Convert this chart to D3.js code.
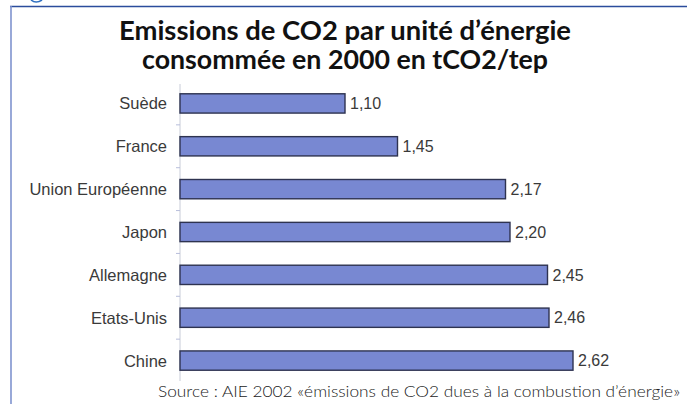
<!DOCTYPE html>
<html>
<head>
<meta charset="utf-8">
<script src="https://cdn.jsdelivr.net/npm/d3@7"></script>
<style>
  html, body { margin: 0; padding: 0; background: #fff; }
  svg { display: block; }
</style>
</head>
<body>
<svg id="chart" width="687" height="404"></svg>
<script>
// Countries and their CO2 intensity of energy use (tCO2 per tep), year 2000
const countries = ["Suède", "France", "Union Européenne", "Japon", "Allemagne", "Etats-Unis", "Chine"];
const values = [1.10, 1.45, 2.17, 2.20, 2.45, 2.46, 2.62];
const titleLines = ["Emissions de CO2 par unité d’énergie", "consommée en 2000 en tCO2/tep"];
const sourceText = "Source : AIE 2002 «émissions de CO2 dues à la combustion d’énergie»";

const svg = d3.select("#chart");
const W = 687, H = 404;

// Frame of the figure box (with the tail of the heading above it)
svg.append("path")
  .attr("d", "M31,0 Q36,4 42,0")
  .attr("fill", "none")
  .attr("stroke", "#2f6fc0").attr("stroke-width", 1.6);
svg.append("line")
  .attr("x1", 10).attr("x2", W).attr("y1", 6.5).attr("y2", 6.5)
  .attr("stroke", "#2b4c9c").attr("stroke-width", 1.6);
svg.append("line")
  .attr("x1", 11).attr("x2", 11).attr("y1", 6).attr("y2", H)
  .attr("stroke", "#7f93cf").attr("stroke-width", 1.6);

// Title
const titleWidths = [452, 406];
const title = svg.append("text")
  .attr("text-anchor", "middle")
  .attr("font-family", "Lato, sans-serif")
  .attr("font-weight", "bold")
  .attr("font-size", 26)
  .attr("fill", "#111");
title.selectAll("tspan").data(titleLines).join("tspan")
  .attr("x", 345)
  .attr("y", (d, i) => 40 + i * 29)
  .attr("textLength", (d, i) => titleWidths[i])
  .attr("lengthAdjust", "spacingAndGlyphs")
  .text(d => d);

// Scales
const x = d3.scaleLinear().domain([0, 1]).range([180, 330]);
const y = d3.scaleBand().domain(countries).range([82, 382]).paddingInner(0.55).paddingOuter(0.275);

// Category axis: thin line with small ticks between the bars
svg.append("line")
  .attr("x1", x(0)).attr("x2", x(0)).attr("y1", 84).attr("y2", 381)
  .attr("stroke", "#c8ccd8").attr("stroke-width", 1);
const step = y.step();
svg.selectAll(".tick").data(countries.slice(1)).join("line")
  .attr("class", "tick")
  .attr("x1", x(0) - 4).attr("x2", x(0))
  .attr("y1", d => y(d) - (step - y.bandwidth()) / 2)
  .attr("y2", d => y(d) - (step - y.bandwidth()) / 2)
  .attr("stroke", "#b8bedb").attr("stroke-width", 1);

// Category labels
svg.selectAll(".cat").data(countries).join("text")
  .attr("class", "cat")
  .attr("x", 167)
  .attr("y", d => y(d) + y.bandwidth() / 2)
  .attr("dy", "0.36em")
  .attr("text-anchor", "end")
  .attr("font-family", "'Liberation Sans', Arial, sans-serif")
  .attr("font-size", 16.5)
  .attr("fill", "#3a3a3a")
  .text(d => d);

// Bars
svg.selectAll(".bar").data(countries).join("rect")
  .attr("class", "bar")
  .attr("x", x(0))
  .attr("y", (d) => y(d))
  .attr("width", (d, i) => x(values[i]) - x(0))
  .attr("height", y.bandwidth())
  .attr("fill", "#7888d2")
  .attr("stroke", "#2e3350")
  .attr("stroke-width", 1.4);

// Value labels
const fmt = v => d3.format(".2f")(v).replace(".", ",");
svg.selectAll(".val").data(countries).join("text")
  .attr("class", "val")
  .attr("x", (d, i) => x(values[i]) + 5)
  .attr("y", d => y(d) + y.bandwidth() / 2)
  .attr("dy", "0.36em")
  .attr("font-family", "'Liberation Sans', Arial, sans-serif")
  .attr("font-size", 16)
  .attr("fill", "#3a3a3a")
  .text((d, i) => fmt(values[i]));

// Source line
svg.append("text")
  .attr("x", 158).attr("y", 397)
  .attr("font-family", "Lato, sans-serif")
  .attr("font-size", 16)
  .attr("font-weight", 300)
  .attr("fill", "#222")
  .attr("textLength", 522)
  .attr("lengthAdjust", "spacingAndGlyphs")
  .text(sourceText);
</script>
</body>
</html>
